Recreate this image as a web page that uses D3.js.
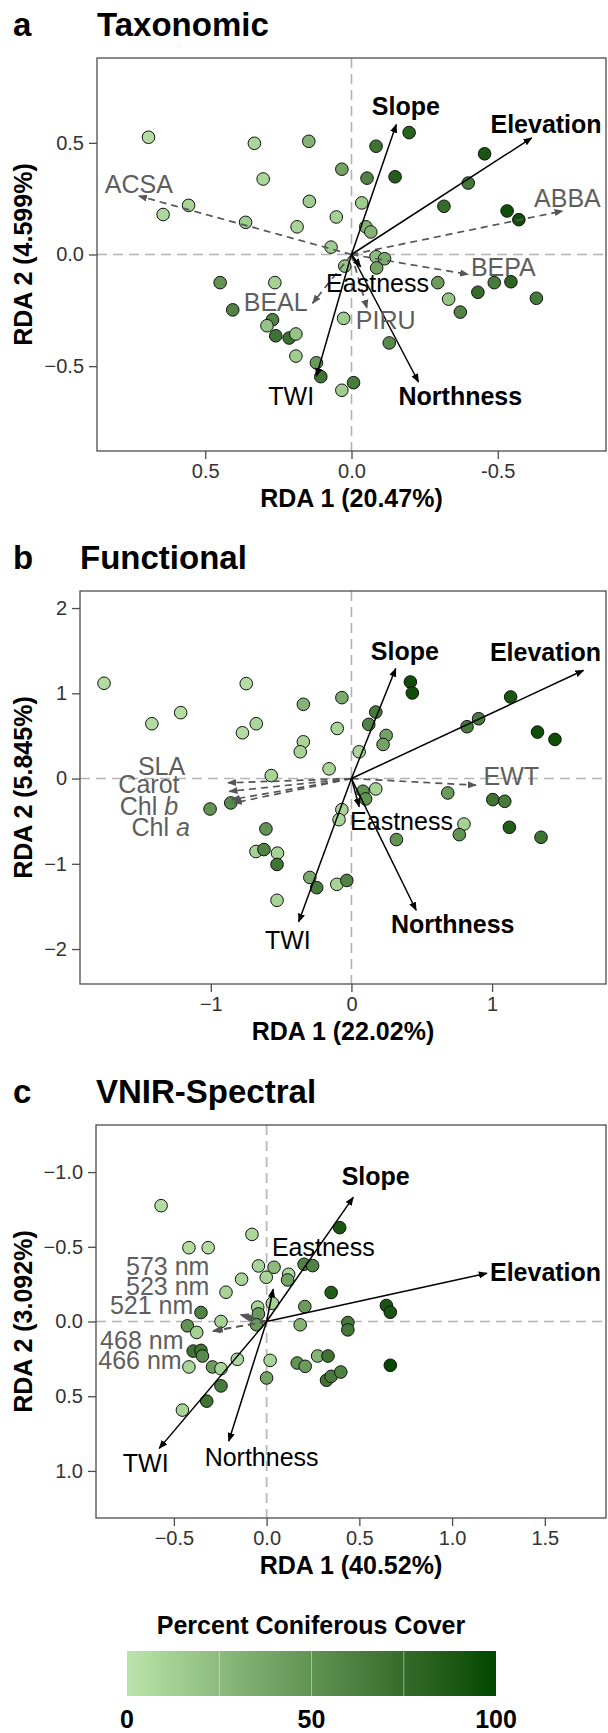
<!DOCTYPE html>
<html>
<head>
<meta charset="utf-8">
<script src="https://cdn.jsdelivr.net/npm/d3@7"></script>
<style>
  body { margin: 0; background: #fff; }
  svg { display: block; font-family: "Liberation Sans", Arial, Helvetica, sans-serif; }
</style>
</head>
<body>
<svg id="fig" width="608" height="1733"></svg>
<script>
// ---- a: taxonomic RDA, sites as [RDA1, RDA2, % coniferous]
const taxSites = [
  [0.694, 0.525, 5], [0.332, 0.498, 8], [0.146, 0.507, 30], [-0.084, 0.485, 70], [-0.197, 0.546, 82],
  [-0.455, 0.451, 90], [0.302, 0.338, 8], [0.033, 0.382, 40], [-0.053, 0.342, 60], [-0.149, 0.348, 85],
  [-0.399, 0.32, 68], [0.557, 0.22, 10], [0.644, 0.179, 8], [0.144, 0.238, 15], [-0.035, 0.231, 15],
  [0.052, 0.168, 12], [-0.316, 0.216, 75], [-0.532, 0.195, 95], [-0.572, 0.156, 95], [0.362, 0.144, 15],
  [0.186, 0.124, 10], [-0.049, 0.124, 30], [-0.066, 0.101, 30], [0.07, 0.033, 15], [-0.084, -0.01, 25],
  [-0.113, -0.019, 35], [0.023, -0.052, 20], [-0.086, -0.06, 40], [0.449, -0.126, 50], [0.262, -0.126, 12],
  [-0.295, -0.126, 45], [-0.488, -0.126, 65], [-0.545, -0.122, 80], [-0.432, -0.169, 75], [-0.632, -0.196, 65],
  [-0.332, -0.2, 20], [-0.372, -0.258, 60], [0.406, -0.248, 60], [0.27, -0.292, 60], [0.289, -0.319, 20],
  [0.259, -0.364, 70], [0.213, -0.374, 72], [0.19, -0.356, 20], [0.027, -0.286, 15], [-0.129, -0.396, 55],
  [0.19, -0.455, 15], [0.12, -0.485, 45], [0.105, -0.547, 70], [-0.007, -0.574, 65], [0.033, -0.608, 15],
];
// environmental vectors: [name, tipX, tipY, labelX, labelY]
const taxEnv = [
  ['Slope', -0.153, 0.582, -0.186, 0.667],
  ['Elevation', -0.616, 0.522, -0.665, 0.585],
  ['Eastness', -0.031, -0.055, -0.089, -0.129],
  ['TWI', 0.12, -0.545, 0.206, -0.633],
  ['Northness', -0.229, -0.571, -0.372, -0.634],
];
const taxSpecies = [
  ['ACSA', 0.727, 0.262, 0.727, 0.317],
  ['ABBA', -0.722, 0.195, -0.738, 0.253],
  ['BEPA', -0.399, -0.089, -0.519, -0.058],
  ['BEAL', 0.133, -0.218, 0.259, -0.214],
  ['PIRU', -0.053, -0.24, -0.117, -0.295],
];
const taxSignificant = ['Slope', 'Elevation', 'Northness'];
const taxXTicks = [0.5, 0, -0.5];
const taxXLabels = ['0.5', '0.0', '-0.5'];
const taxYTicks = [0.5, 0, -0.5];
const taxYLabels = ['0.5', '0.0', '\u22120.5'];

// ---- b: functional RDA
const funSites = [
  [-1.759, 1.118, 5], [-0.748, 1.114, 5], [-1.419, 0.643, 5], [-1.214, 0.773, 5], [-0.342, 0.871, 30],
  [-0.068, 0.949, 35], [0.419, 1.133, 95], [0.433, 1.004, 95], [1.132, 0.957, 90], [0.173, 0.78, 65],
  [0.123, 0.635, 60], [-0.775, 0.537, 5], [-0.677, 0.643, 8], [-0.101, 0.588, 10], [-0.342, 0.431, 10],
  [-0.364, 0.314, 10], [0.247, 0.506, 40], [0.225, 0.4, 40], [0.822, 0.608, 65], [0.904, 0.702, 65],
  [1.323, 0.545, 95], [1.447, 0.459, 95], [0.055, 0.314, 10], [-0.159, 0.114, 10], [-0.57, 0.035, 10],
  [0.082, -0.149, 50], [0.173, -0.122, 12], [0.101, -0.239, 50], [0.685, -0.169, 45], [1.005, -0.247, 70],
  [1.09, -0.267, 65], [-1.005, -0.357, 50], [-0.858, -0.286, 55], [-0.068, -0.365, 10], [-0.088, -0.482, 10],
  [0.8, -0.533, 12], [0.767, -0.658, 50], [1.123, -0.572, 85], [1.348, -0.689, 70], [0.32, -0.716, 50],
  [-0.608, -0.591, 50], [-0.679, -0.856, 12], [-0.622, -0.833, 60], [-0.526, -0.875, 12], [-0.529, -1.008, 70],
  [-0.296, -1.16, 35], [-0.247, -1.28, 65], [-0.104, -1.241, 10], [-0.033, -1.195, 60], [-0.529, -1.428, 10],
];
const funEnv = [
  ['Slope', 0.315, 1.29, 0.38, 1.5],
  ['Elevation', 1.65, 1.27, 1.38, 1.49],
  ['Eastness', 0.055, -0.33, 0.356, -0.494],
  ['TWI', -0.375, -1.68, -0.452, -1.895],
  ['Northness', 0.46, -1.545, 0.72, -1.71],
];
const funTraits = [
  ['EWT', 0.885, -0.078, 1.137, 0.027],
  ['SLA', -0.877, -0.05, -1.35, 0.15],
  ['Carot', -0.868, -0.15, -1.44, -0.06],
  ['Chl b', -0.85, -0.247, -1.44, -0.32],
  ['Chl a', -0.836, -0.286, -1.356, -0.572],
];
const funSignificant = ['Slope', 'Elevation', 'Northness'];
const funXTicks = [-1, 0, 1];
const funXLabels = ['\u22121', '0', '1'];
const funYTicks = [2, 1, 0, -1, -2];
const funYLabels = ['2', '1', '0', '\u22121', '\u22122'];

// ---- c: VNIR spectral RDA (RDA 2 axis runs downward)
const specSites = [
  [-0.569, -0.775, 5], [-0.079, -0.583, 8], [0.394, -0.628, 90], [-0.419, -0.494, 5], [-0.315, -0.494, 5],
  [-0.044, -0.372, 10], [0.04, -0.363, 25], [0.202, -0.383, 60], [0.248, -0.374, 60], [0.119, -0.316, 10],
  [0.113, -0.278, 40], [-0.002, -0.296, 10], [-0.135, -0.283, 10], [-0.219, -0.196, 10], [0.348, -0.194, 85],
  [0.031, -0.122, 12], [-0.048, -0.096, 10], [-0.044, -0.051, 45], [0.206, -0.1, 45], [0.646, -0.107, 90],
  [0.667, -0.062, 90], [-0.354, -0.06, 60], [-0.246, 0.0, 12], [-0.054, 0.022, 45], [0.181, 0.022, 30],
  [0.438, 0.007, 65], [0.438, 0.056, 68], [-0.427, 0.029, 50], [-0.377, 0.073, 12], [-0.396, 0.198, 70],
  [-0.354, 0.193, 70], [-0.346, 0.231, 55], [-0.419, 0.304, 10], [-0.292, 0.304, 45], [-0.246, 0.316, 10],
  [-0.158, 0.253, 8], [0.019, 0.26, 10], [0.0, 0.378, 40], [-0.246, 0.431, 65], [-0.323, 0.533, 70],
  [-0.454, 0.593, 10], [0.165, 0.278, 50], [0.208, 0.3, 45], [0.275, 0.231, 30], [0.331, 0.231, 70],
  [0.323, 0.393, 70], [0.348, 0.367, 65], [0.4, 0.338, 60], [0.667, 0.293, 100],
];
const specEnv = [
  ['Slope', 0.467, -0.831, 0.588, -0.973],
  ['Elevation', 1.188, -0.323, 1.504, -0.334],
  ['Eastness', 0.035, -0.216, 0.306, -0.501],
  ['TWI', -0.579, 0.849, -0.652, 0.949],
  ['Northness', -0.204, 0.8, -0.027, 0.904],
];
const specBands = [
  ['573 nm', -0.14, -0.045, -0.533, -0.372],
  ['523 nm', -0.13, -0.035, -0.533, -0.24],
  ['521 nm', -0.12, -0.03, -0.62, -0.111],
  ['468 nm', -0.29, 0.065, -0.673, 0.122],
  ['466 nm', -0.28, 0.06, -0.683, 0.26],
];
const specSignificant = ['Slope', 'Elevation'];
const specXTicks = [-0.5, 0, 0.5, 1, 1.5];
const specXLabels = ['\u22120.5', '0.0', '0.5', '1.0', '1.5'];
const specYTicks = [-1, -0.5, 0, 0.5, 1];
const specYLabels = ['\u22121.0', '\u22120.5', '0.0', '0.5', '1.0'];

// ---- legend
const coverTicks = [0, 50, 100];
const coverMinorTicks = [25, 50, 75];

const svg = d3.select('#fig');
const right = 606;
const boxH = 393;
const grayText = '#5e5e5e';
const color = d3.scaleLinear()
  .domain([0, 100])
  .range(['#bbe5aa', '#004700'])
  .interpolate(d3.interpolateLab);

const defs = svg.append('defs');
function addMarker(id, fill) {
  defs.append('marker')
    .attr('id', id)
    .attr('viewBox', '0 0 10 10')
    .attr('refX', 9)
    .attr('refY', 5)
    .attr('markerUnits', 'userSpaceOnUse')
    .attr('markerWidth', 9)
    .attr('markerHeight', 9)
    .attr('orient', 'auto')
    .append('path')
    .attr('d', 'M0,1L10,5L0,9Z')
    .attr('fill', fill);
}
addMarker('head-black', '#000');
addMarker('head-gray', '#555');

function drawPanel(p) {
  const g = svg.append('g');
  const bottom = p.top + boxH;
  const x = d3.scaleLinear().domain(p.xDomain).range([p.left, right]);
  const y = d3.scaleLinear().domain(p.yDomain).range([bottom, p.top]);

  // heading
  g.append('text')
    .attr('x', 13).attr('y', p.top - 22)
    .attr('font-size', 33).attr('font-weight', 'bold')
    .text(p.letter);
  g.append('text')
    .attr('x', p.left).attr('y', p.top - 22)
    .attr('font-size', 33).attr('font-weight', 'bold')
    .text(p.title);

  // zero lines
  g.append('line')
    .attr('x1', p.left).attr('x2', right)
    .attr('y1', y(0)).attr('y2', y(0))
    .attr('stroke', '#b3b3b3').attr('stroke-width', 1.6)
    .attr('stroke-dasharray', '10,6');
  g.append('line')
    .attr('x1', x(0)).attr('x2', x(0))
    .attr('y1', p.top).attr('y2', bottom)
    .attr('stroke', '#b3b3b3').attr('stroke-width', 1.6)
    .attr('stroke-dasharray', '10,6');

  // sites
  g.append('g')
    .selectAll('circle')
    .data(p.sites)
    .join('circle')
    .attr('cx', d => x(d[0]))
    .attr('cy', d => y(d[1]))
    .attr('r', 6.3)
    .attr('fill', d => color(d[2]))
    .attr('stroke', '#111')
    .attr('stroke-width', 1);

  // response vectors (dashed gray)
  g.append('g')
    .selectAll('line')
    .data(p.vectors)
    .join('line')
    .attr('x1', x(0)).attr('y1', y(0))
    .attr('x2', d => x(d[1])).attr('y2', d => y(d[2]))
    .attr('stroke', '#555').attr('stroke-width', 1.7)
    .attr('stroke-dasharray', '7,5')
    .attr('marker-end', 'url(#head-gray)');

  // environmental vectors
  g.append('g')
    .selectAll('line')
    .data(p.env)
    .join('line')
    .attr('x1', x(0)).attr('y1', y(0))
    .attr('x2', d => x(d[1])).attr('y2', d => y(d[2]))
    .attr('stroke', '#000').attr('stroke-width', 1.5)
    .attr('marker-end', 'url(#head-black)');

  // vector labels
  const vlab = g.append('g')
    .selectAll('text')
    .data(p.vectors)
    .join('text')
    .attr('x', d => x(d[3])).attr('y', d => y(d[4]))
    .attr('text-anchor', 'middle')
    .attr('dominant-baseline', 'central')
    .attr('font-size', 25)
    .attr('fill', grayText);
  vlab.each(function (d) {
    const m = d[0].match(/^Chl ([ab])$/);
    const t = d3.select(this);
    if (m) {
      t.append('tspan').text('Chl ');
      t.append('tspan').attr('font-style', 'italic').text(m[1]);
    } else {
      t.text(d[0]);
    }
  });

  g.append('g')
    .selectAll('text')
    .data(p.env)
    .join('text')
    .attr('x', d => x(d[3])).attr('y', d => y(d[4]))
    .attr('text-anchor', 'middle')
    .attr('dominant-baseline', 'central')
    .attr('font-size', 25)
    .attr('font-weight', d => (p.significant.includes(d[0]) ? 'bold' : 'normal'))
    .attr('fill', '#000')
    .text(d => d[0]);

  // panel border
  g.append('rect')
    .attr('x', p.left).attr('y', p.top)
    .attr('width', right - p.left).attr('height', boxH)
    .attr('fill', 'none')
    .attr('stroke', '#4d4d4d').attr('stroke-width', 1.3);

  // axes
  const xAxis = g.append('g')
    .attr('transform', `translate(0,${bottom})`)
    .call(d3.axisBottom(x).tickValues(p.xTicks)
      .tickFormat((d, i) => p.xLabels[i]).tickSize(8).tickPadding(5));
  const yAxis = g.append('g')
    .attr('transform', `translate(${p.left},0)`)
    .call(d3.axisLeft(y).tickValues(p.yTicks)
      .tickFormat((d, i) => p.yLabels[i]).tickSize(8).tickPadding(5));
  [xAxis, yAxis].forEach((ax) => {
    ax.select('.domain').remove();
    ax.selectAll('line').attr('stroke', '#4d4d4d').attr('stroke-width', 1.3);
    ax.selectAll('text')
      .attr('font-size', 20)
      .attr('font-family', '"Liberation Sans", Arial, sans-serif')
      .attr('fill', '#333');
  });

  // axis titles
  g.append('text')
    .attr('x', (p.left + right) / 2).attr('y', bottom + 56)
    .attr('text-anchor', 'middle')
    .attr('font-size', 25).attr('font-weight', 'bold')
    .text(p.xTitle);
  g.append('text')
    .attr('transform', `translate(32,${p.top + boxH / 2}) rotate(-90)`)
    .attr('text-anchor', 'middle')
    .attr('font-size', 25).attr('font-weight', 'bold')
    .text(p.yTitle);
}

drawPanel({
  letter: 'a', title: 'Taxonomic', top: 58, left: 97,
  xDomain: [0.87, -0.87], yDomain: [-0.88, 0.88],
  xTicks: taxXTicks, xLabels: taxXLabels, yTicks: taxYTicks, yLabels: taxYLabels,
  xTitle: 'RDA 1 (20.47%)', yTitle: 'RDA 2 (4.599%)',
  sites: taxSites, env: taxEnv, vectors: taxSpecies, significant: taxSignificant,
});

drawPanel({
  letter: 'b', title: 'Functional', top: 591, left: 80,
  xDomain: [-1.93, 1.81], yDomain: [-2.41, 2.2],
  xTicks: funXTicks, xLabels: funXLabels, yTicks: funYTicks, yLabels: funYLabels,
  xTitle: 'RDA 1 (22.02%)', yTitle: 'RDA 2 (5.845%)',
  sites: funSites, env: funEnv, vectors: funTraits, significant: funSignificant,
});

drawPanel({
  letter: 'c', title: 'VNIR-Spectral', top: 1125, left: 96,
  xDomain: [-0.92, 1.83], yDomain: [1.315, -1.315],
  xTicks: specXTicks, xLabels: specXLabels, yTicks: specYTicks, yLabels: specYLabels,
  xTitle: 'RDA 1 (40.52%)', yTitle: 'RDA 2 (3.092%)',
  sites: specSites, env: specEnv, vectors: specBands, significant: specSignificant,
});

// ---- colour bar legend
const legX = d3.scaleLinear().domain([0, 100]).range([127, 496]);
const legTop = 1651;
const legH = 45;
const grad = defs.append('linearGradient').attr('id', 'cover-grad');
grad.selectAll('stop')
  .data(d3.range(0, 101, 10))
  .join('stop')
  .attr('offset', d => `${d}%`)
  .attr('stop-color', d => color(d));

const leg = svg.append('g');
leg.append('text')
  .attr('x', 311).attr('y', 1634)
  .attr('text-anchor', 'middle')
  .attr('font-size', 25).attr('font-weight', 'bold')
  .text('Percent Coniferous Cover');
leg.append('rect')
  .attr('x', legX(0)).attr('y', legTop)
  .attr('width', legX(100) - legX(0)).attr('height', legH)
  .attr('fill', 'url(#cover-grad)');
leg.selectAll('line.tick')
  .data(coverMinorTicks)
  .join('line')
  .attr('class', 'tick')
  .attr('x1', d => legX(d)).attr('x2', d => legX(d))
  .attr('y1', legTop).attr('y2', legTop + legH)
  .attr('stroke', '#fff').attr('stroke-width', 1)
  .attr('stroke-opacity', 0.45);
leg.selectAll('text.lab')
  .data(coverTicks)
  .join('text')
  .attr('class', 'lab')
  .attr('x', d => legX(d)).attr('y', 1728)
  .attr('text-anchor', 'middle')
  .attr('font-size', 25).attr('font-weight', 'bold')
  .text(d => d);
</script>
</body>
</html>
